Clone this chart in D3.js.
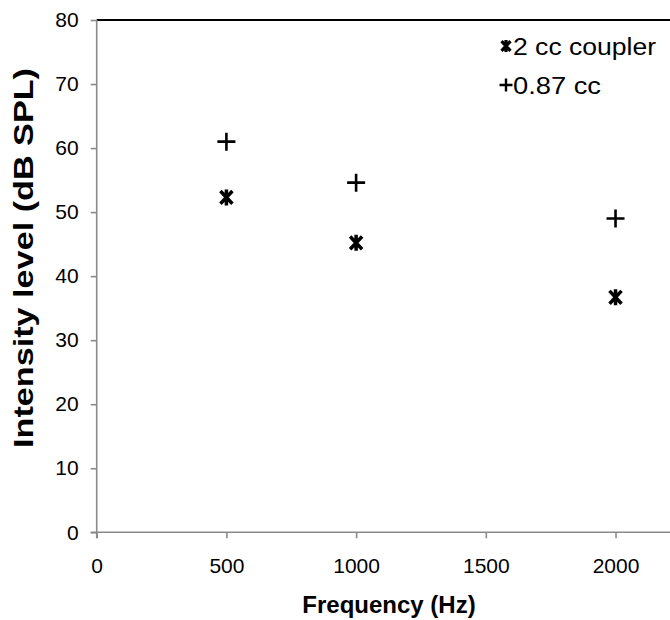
<!DOCTYPE html>
<html>
<head>
<meta charset="utf-8">
<script src="https://cdn.jsdelivr.net/npm/d3@7"></script>
<style>
  html, body { margin: 0; padding: 0; background: #fff; }
  svg { display: block; }
  text { font-family: "Liberation Sans", Arial, sans-serif; fill: #000; }
</style>
</head>
<body>
<div id="chart"></div>
<script>
// Measured intensity at each test frequency for the two coupler volumes
const frequencies = [500, 1000, 2000];
const coupler2cc = [52.3, 45.2, 36.7];
const coupler087cc = [61.0, 54.6, 49.0];
const seriesNames = ["2 cc coupler", "0.87 cc"];
const xTicks = [0, 500, 1000, 1500, 2000];
const yTicks = [0, 10, 20, 30, 40, 50, 60, 70, 80];

const width = 670, height = 620;
const svg = d3.select("#chart").append("svg")
  .attr("width", width).attr("height", height);

const x = d3.scaleLinear().domain([0, 2210]).range([96.7, 670]);
const y = d3.scaleLinear().domain([0, 80]).range([532.3, 20]);

// Marker shapes: a heavy asterisk (X with a vertical bar) and a plus
const asterisk = {
  draw(ctx, size) {
    const r = Math.sqrt(size) / 2;
    ctx.moveTo(0, -r); ctx.lineTo(0, r);
    ctx.moveTo(-r * 0.75, -r * 0.8); ctx.lineTo(r * 0.75, r * 0.8);
    ctx.moveTo(-r * 0.75, r * 0.8); ctx.lineTo(r * 0.75, -r * 0.8);
  }
};
const plus = {
  draw(ctx, size) {
    const r = Math.sqrt(size) / 2;
    ctx.moveTo(-r, 0); ctx.lineTo(r, 0);
    ctx.moveTo(0, -r); ctx.lineTo(0, r);
  }
};
const asteriskPath = d3.symbol().type(asterisk).size(16 * 16);
const plusPath = d3.symbol().type(plus).size(18 * 18);

// Frame: black top border, grey axis lines
svg.append("line")
  .attr("x1", x(0)).attr("x2", width)
  .attr("y1", y(80)).attr("y2", y(80))
  .attr("stroke", "#000").attr("stroke-width", 2);

const yAxis = svg.append("g")
  .attr("transform", `translate(${x(0)},0)`)
  .call(d3.axisLeft(y).tickValues(yTicks).tickSize(6).tickPadding(12).tickFormat(d3.format("d")));
const xAxis = svg.append("g")
  .attr("transform", `translate(0,${y(0)})`)
  .call(d3.axisBottom(x).tickValues(xTicks).tickSize(6).tickPadding(20).tickFormat(d3.format("d")));

[yAxis, xAxis].forEach(g => {
  g.select(".domain").attr("stroke", "#8a8a8a").attr("stroke-width", 1.6);
  g.selectAll(".tick line").attr("stroke", "#8a8a8a").attr("stroke-width", 1.6);
  g.selectAll(".tick text")
    .style("font-family", '"Liberation Sans", Arial, sans-serif')
    .attr("font-size", 21).attr("fill", "#000");
});
yAxis.select(".domain").attr("d", `M0,${y(0) + 6}V${y(80)}`);
xAxis.select(".domain").attr("d", `M${x(0) - 6},0H${width}`);

// Axis titles
svg.append("text")
  .attr("x", 389).attr("y", 613)
  .attr("text-anchor", "middle")
  .attr("font-size", 24).attr("font-weight", "bold")
  .text("Frequency (Hz)");

svg.append("text")
  .attr("transform", "translate(33,258) rotate(-90)")
  .attr("text-anchor", "middle")
  .attr("font-size", 28).attr("font-weight", "bold")
  .attr("textLength", 380).attr("lengthAdjust", "spacingAndGlyphs")
  .text("Intensity level (dB SPL)");

// Data markers
svg.append("g").selectAll("path")
  .data(frequencies.map((f, i) => [f, coupler2cc[i]]))
  .join("path")
  .attr("transform", d => `translate(${x(d[0])},${y(d[1])})`)
  .attr("d", asteriskPath)
  .attr("fill", "none").attr("stroke", "#000").attr("stroke-width", 3.5);

svg.append("g").selectAll("path")
  .data(frequencies.map((f, i) => [f, coupler087cc[i]]))
  .join("path")
  .attr("transform", d => `translate(${x(d[0])},${y(d[1])})`)
  .attr("d", plusPath)
  .attr("fill", "none").attr("stroke", "#000").attr("stroke-width", 2.6);

// Legend
const legend = svg.append("g");
const legendRows = [
  { name: seriesNames[0], path: d3.symbol().type(asterisk).size(12 * 12), sw: 3.2, y: 46, len: 143 },
  { name: seriesNames[1], path: d3.symbol().type(plus).size(13 * 13), sw: 2.4, y: 85, len: 88 }
];
legendRows.forEach(r => {
  legend.append("path")
    .attr("transform", `translate(506,${r.y})`)
    .attr("d", r.path)
    .attr("fill", "none").attr("stroke", "#000").attr("stroke-width", r.sw);
  legend.append("text")
    .attr("x", 513).attr("y", r.y + 9)
    .attr("font-size", 23)
    .attr("textLength", r.len).attr("lengthAdjust", "spacingAndGlyphs")
    .text(r.name);
});
</script>
</body>
</html>
